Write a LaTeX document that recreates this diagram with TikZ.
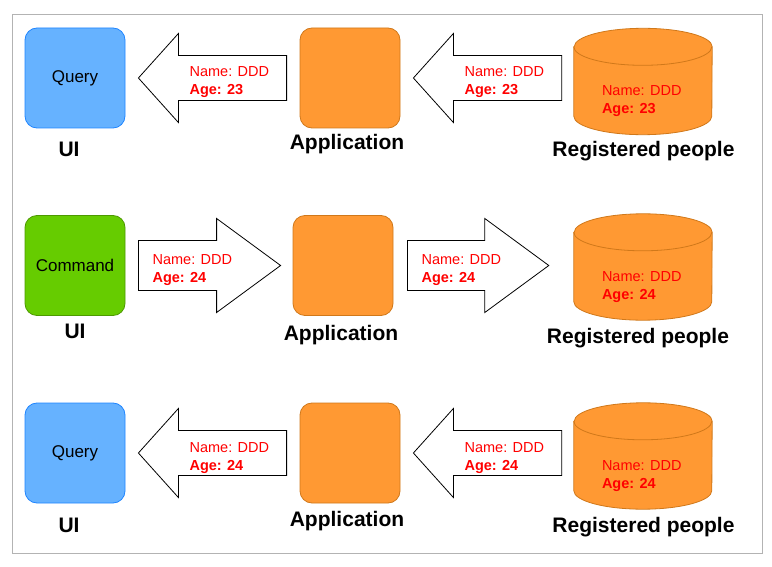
\documentclass[tikz,border=0pt]{standalone}
\usepackage{fontspec}
\setmainfont{Liberation Sans}
\usetikzlibrary{calc}

\definecolor{queryfill}{HTML}{66B2FF}
\definecolor{queryline}{HTML}{1F85FF}
\definecolor{cmdfill}{HTML}{66CC00}
\definecolor{cmdline}{HTML}{4D9900}
\definecolor{appfill}{HTML}{FF9933}
\definecolor{appline}{HTML}{D0781A}
\definecolor{framegray}{HTML}{B3B3B3}

\tikzset{
  ui/.style={rectangle, rounded corners=12pt, minimum width=100pt, minimum height=100pt,
    inner sep=0pt, line width=0.8pt, font=\fontsize{17}{20}\selectfont},
  query/.style={ui, draw=queryline, fill=queryfill},
  command/.style={ui, draw=cmdline, fill=cmdfill},
  app/.style={ui, draw=appline, fill=appfill},
  storebox/.style={rectangle, minimum width=138pt, minimum height=106pt, inner sep=0pt},
  storeline/.style={draw=appline, fill=appfill, line width=0.8pt},
  boxname/.style={font=\bfseries\fontsize{21}{25}\selectfont, anchor=base, inner sep=0pt},
  datatext/.style={text=red, font=\fontsize{14.5}{18}\selectfont,
    align=left, anchor=north west, inner sep=0pt},
  blockarrow/.style={draw=black, fill=white, line width=0.8pt, line join=miter},
  frame/.style={draw=framegray, line width=1pt}
}

% block arrow pointing left: #1 = tip, #2 = tail end
\newcommand{\blockleft}[2]{\draw[blockarrow] (#1) -- ++(40,-44.5) |- ($(#2)+(0,-22.5)$)
  -- ++(0,45) -| ($(#1)+(40,44.5)$) -- cycle;}
% block arrow pointing right: #1 = tail end, #2 = tip
\newcommand{\blockright}[2]{\draw[blockarrow] ($(#1)+(0,-25)$) -| ($(#2)+(-64,-47)$)
  -- (#2) -- ($(#2)+(-64,47)$) |- ($(#1)+(0,25)$) -- cycle;}
% drum drawn inside a storebox node #1
\newcommand{\drum}[1]{%
  \filldraw[storeline] ($(#1.north west)+(0,18.5)$) -- ($(#1.south west)+(0,-18.5)$)
    arc[start angle=180, end angle=360, x radius=69pt, y radius=18.5pt]
    -- ($(#1.north east)+(0,18.5)$)
    arc[start angle=0, end angle=180, x radius=69pt, y radius=18.5pt] -- cycle;
  \draw[storeline, fill=none] ($(#1.north west)+(0,18.5)$)
    arc[start angle=180, end angle=360, x radius=69pt, y radius=18.5pt];}

\begin{document}
\begin{tikzpicture}[x=1pt, y=-1pt]
\useasboundingbox (0,0) rectangle (772,567);
\draw[frame] (12.5,15) rectangle (762,553);

% first row: query
\node[query] (q1) at (75,78) {Query};
\node[app] (a1) at (350,78) {};
\node[storebox] (d1) at (643,81.5) {};
\drum{d1}
\node[boxname] (u1) at (69,157) {UI};
\node[boxname] (p1) at (347,150) {Application};
\node[boxname] (r1) at (643.5,157) {Registered people};
\coordinate (t11) at ($(q1.east)+(13,0)$);
\coordinate (e11) at ($(a1.west)+(-13,0)$);
\blockleft{t11}{e11}
\coordinate (t12) at ($(a1.east)+(13,0)$);
\coordinate (e12) at ($(t12 -| d1.west)+(-12,0)$);
\blockleft{t12}{e12}
\node[datatext] (n11) at ($(t11)+(51,-11.5)$) {Name: DDD\\\textbf{Age: 23}};
\node[datatext] (n12) at ($(t12)+(51,-11.5)$) {Name: DDD\\\textbf{Age: 23}};
\node[datatext] (n13) at ($(d1.west)+(28,3.5)$) {Name: DDD\\\textbf{Age: 23}};

% second row: command
\node[command] (c2) at (75,265.5) {Command};
\node[app] (a2) at (343,265.5) {};
\node[storebox] (d2) at (643,267) {};
\drum{d2}
\node[boxname] (u2) at (75,338) {UI};
\node[boxname] (p2) at (341,340) {Application};
\node[boxname] (r2) at (638,343) {Registered people};
\coordinate (l21) at ($(c2.east)+(13,0)$);
\coordinate (t21) at ($(a2.west)+(-12,0)$);
\blockright{l21}{t21}
\coordinate (l22) at ($(a2.east)+(14,0)$);
\coordinate (t22) at ($(l22 -| d2.west)+(-25,0)$);
\blockright{l22}{t22}
\node[datatext] (n21) at ($(l21)+(14,-11)$) {Name: DDD\\\textbf{Age: 24}};
\node[datatext] (n22) at ($(l22)+(14,-11)$) {Name: DDD\\\textbf{Age: 24}};
\node[datatext] (n23) at ($(d2.west)+(28,4)$) {Name: DDD\\\textbf{Age: 24}};

% third row: query again
\node[query] (q3) at (75,453) {Query};
\node[app] (a3) at (350,453) {};
\node[storebox] (d3) at (643,456) {};
\drum{d3}
\node[boxname] (u3) at (69,532) {UI};
\node[boxname] (p3) at (347,526) {Application};
\node[boxname] (r3) at (643.5,532) {Registered people};
\coordinate (t31) at ($(q3.east)+(13,0)$);
\coordinate (e31) at ($(a3.west)+(-13,0)$);
\blockleft{t31}{e31}
\coordinate (t32) at ($(a3.east)+(13,0)$);
\coordinate (e32) at ($(t32 -| d3.west)+(-12,0)$);
\blockleft{t32}{e32}
\node[datatext] (n31) at ($(t31)+(51,-11)$) {Name: DDD\\\textbf{Age: 24}};
\node[datatext] (n32) at ($(t32)+(51,-11)$) {Name: DDD\\\textbf{Age: 24}};
\node[datatext] (n33) at ($(d3.west)+(28,4)$) {Name: DDD\\\textbf{Age: 24}};
\end{tikzpicture}
\end{document}
